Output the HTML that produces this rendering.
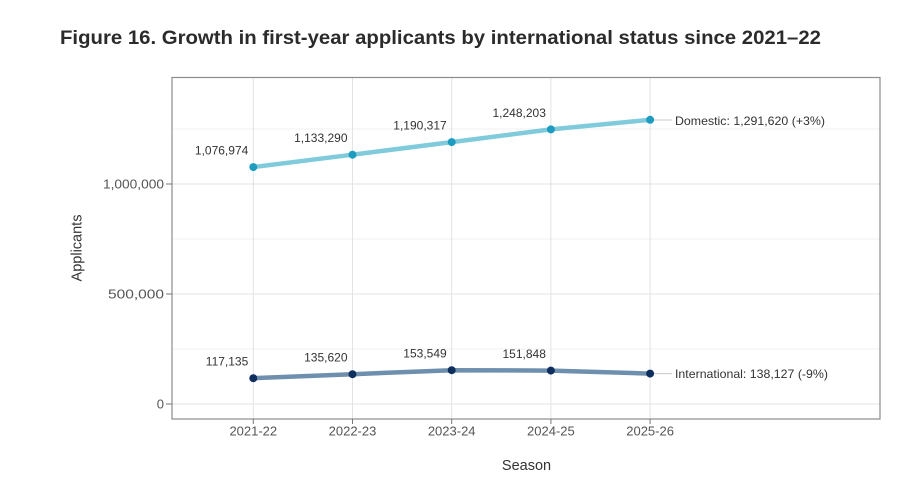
<!DOCTYPE html>
<html><head><meta charset="utf-8"><style>
html,body{margin:0;padding:0;background:#fff;}
svg{display:block;}
text{font-family:"Liberation Sans",sans-serif;}
</style></head><body>
<svg width="919" height="492" viewBox="0 0 919 492" xmlns="http://www.w3.org/2000/svg">
<rect width="919" height="492" fill="#fff"/>
<text x="60" y="44" font-size="19.5" font-weight="bold" fill="#2b2b2b" textLength="761" lengthAdjust="spacingAndGlyphs">Figure 16. Growth in first-year applicants by international status since 2021–22</text>
<!-- minor gridlines -->
<g stroke="#f1f1f1" stroke-width="1">
<line x1="172" y1="349" x2="880" y2="349"/>
<line x1="172" y1="239" x2="880" y2="239"/>
<line x1="172" y1="129" x2="880" y2="129"/>
</g>
<!-- major gridlines -->
<g stroke="#e3e3e3" stroke-width="1">
<line x1="172" y1="404" x2="880" y2="404"/>
<line x1="172" y1="294" x2="880" y2="294"/>
<line x1="172" y1="184" x2="880" y2="184"/>
<line x1="253.3" y1="77" x2="253.3" y2="419"/>
<line x1="352.5" y1="77" x2="352.5" y2="419"/>
<line x1="451.7" y1="77" x2="451.7" y2="419"/>
<line x1="550.9" y1="77" x2="550.9" y2="419"/>
<line x1="650.1" y1="77" x2="650.1" y2="419"/>
</g>
<rect x="172" y="77.5" width="708" height="341.5" fill="none" stroke="#8c8c8c" stroke-width="1.2"/>
<!-- ticks -->
<g stroke="#777" stroke-width="1">
<line x1="166" y1="404" x2="172" y2="404"/>
<line x1="166" y1="294" x2="172" y2="294"/>
<line x1="166" y1="184" x2="172" y2="184"/>
<line x1="253.3" y1="419" x2="253.3" y2="424"/>
<line x1="352.5" y1="419" x2="352.5" y2="424"/>
<line x1="451.7" y1="419" x2="451.7" y2="424"/>
<line x1="550.9" y1="419" x2="550.9" y2="424"/>
<line x1="650.1" y1="419" x2="650.1" y2="424"/>
</g>
<g font-size="13" fill="#555" text-anchor="end">
<text x="164" y="408.5">0</text>
<text x="164" y="298.5" textLength="56" lengthAdjust="spacingAndGlyphs">500,000</text>
<text x="164" y="188.5" textLength="61" lengthAdjust="spacingAndGlyphs">1,000,000</text>
</g>
<g font-size="13" fill="#555" text-anchor="middle">
<text x="253.3" y="435.5">2021-22</text>
<text x="352.5" y="435.5">2022-23</text>
<text x="451.7" y="435.5">2023-24</text>
<text x="550.9" y="435.5">2024-25</text>
<text x="650.1" y="435.5">2025-26</text>
</g>
<text x="526.5" y="470" font-size="14.5" fill="#333" text-anchor="middle">Season</text>
<text transform="translate(81.5,248) rotate(-90)" font-size="14.5" fill="#333" text-anchor="middle">Applicants</text>
<!-- connector lines -->
<g stroke="#c8c8c8" stroke-width="1">
<line x1="654" y1="120" x2="672" y2="120"/>
<line x1="654" y1="373.6" x2="672" y2="373.6"/>
</g>
<!-- domestic -->
<polyline fill="none" stroke="#7fcbdc" stroke-width="4.5" stroke-linejoin="round" points="253.3,167.1 352.5,154.7 451.7,142.1 550.9,129.4 650.1,119.8"/>
<g fill="#1d9cc0">
<circle cx="253.3" cy="167.1" r="4"/>
<circle cx="352.5" cy="154.7" r="4"/>
<circle cx="451.7" cy="142.1" r="4"/>
<circle cx="550.9" cy="129.4" r="4"/>
<circle cx="650.1" cy="119.8" r="4"/>
</g>
<!-- international -->
<polyline fill="none" stroke="#6f8fae" stroke-width="4.5" stroke-linejoin="round" points="253.3,378.2 352.5,374.2 451.7,370.2 550.9,370.6 650.1,373.6"/>
<g fill="#0e2f5e">
<circle cx="253.3" cy="378.2" r="4"/>
<circle cx="352.5" cy="374.2" r="4"/>
<circle cx="451.7" cy="370.2" r="4"/>
<circle cx="550.9" cy="370.6" r="4"/>
<circle cx="650.1" cy="373.6" r="4"/>
</g>
<!-- data labels -->
<g font-size="12" fill="#333" text-anchor="end">
<text x="248.3" y="154.5">1,076,974</text>
<text x="347.5" y="142">1,133,290</text>
<text x="446.7" y="129.5">1,190,317</text>
<text x="545.9" y="117">1,248,203</text>
<text x="248.3" y="365.5">117,135</text>
<text x="347.5" y="361.5">135,620</text>
<text x="446.7" y="357.5">153,549</text>
<text x="545.9" y="358">151,848</text>
</g>
<g font-size="12" fill="#333">
<text x="675" y="125" textLength="150" lengthAdjust="spacingAndGlyphs">Domestic: 1,291,620 (+3%)</text>
<text x="675" y="378" textLength="153" lengthAdjust="spacingAndGlyphs">International: 138,127 (-9%)</text>
</g>
</svg>
</body></html>
